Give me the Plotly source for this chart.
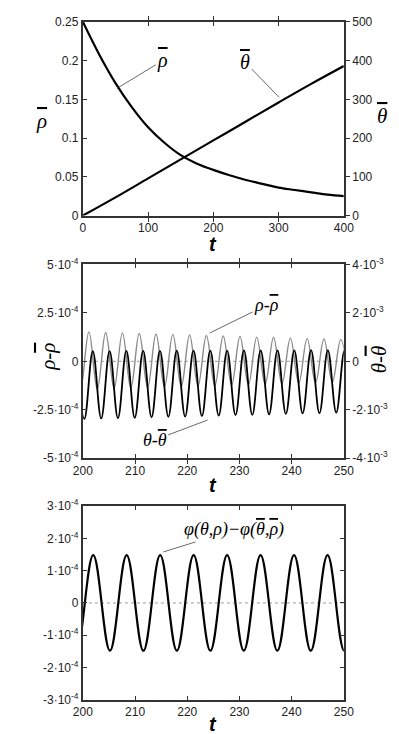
import plotly.graph_objects as go

# --- top panel: averaged quantities vs t ---
t_avg = [0, 25, 50, 75, 100, 125, 150, 175, 200, 225, 250, 275, 300, 325, 350, 375, 400]
rho_bar = [0.250, 0.208, 0.171, 0.140, 0.114, 0.094, 0.078, 0.067, 0.059, 0.052,
           0.046, 0.041, 0.036, 0.033, 0.030, 0.027, 0.025]
t_theta = [0, 50, 100, 150, 200, 250, 300, 350, 400]
theta_bar = [0, 47, 96, 145, 194, 243, 292, 340, 386]

# --- middle panel: deviations (extrema, t in [200, 250]) ---
rho_t = [197.93, 199.54, 201.15, 202.76, 204.37, 205.98, 207.58, 209.19, 210.80, 212.41,
         214.02, 215.63, 217.24, 218.85, 220.45, 222.06, 223.67, 225.28, 226.89, 228.50,
         230.11, 231.72, 233.32, 234.93, 236.54, 238.15, 239.76, 241.37, 242.97, 244.58,
         246.19, 247.80, 249.41, 251.02]
rho_dev = [1.54, -1.45, 1.52, -1.43, 1.49, -1.40, 1.47, -1.38, 1.44, -1.35,
           1.41, -1.33, 1.39, -1.30, 1.36, -1.28, 1.33, -1.26, 1.31, -1.23,
           1.28, -1.21, 1.25, -1.18, 1.23, -1.16, 1.20, -1.13, 1.17, -1.11,
           1.15, -1.08, 1.12, -1.06]  # x 1e-4

theta_t = [198.68, 200.29, 201.90, 203.51, 205.12, 206.72, 208.33, 209.94, 211.55, 213.16,
           214.77, 216.38, 217.99, 219.59, 221.20, 222.81, 224.42, 226.03, 227.64, 229.25,
           230.86, 232.46, 234.07, 235.68, 237.29, 238.90, 240.51, 242.11, 243.72, 245.33,
           246.94, 248.55, 250.16, 251.77]
theta_dev = [0.42, -2.38, 0.42, -2.36, 0.42, -2.35, 0.43, -2.33, 0.43, -2.31,
             0.43, -2.29, 0.44, -2.28, 0.44, -2.26, 0.44, -2.24, 0.44, -2.22,
             0.45, -2.21, 0.45, -2.19, 0.45, -2.17, 0.45, -2.15, 0.46, -2.14,
             0.46, -2.12, 0.46, -2.11]  # x 1e-3

# --- bottom panel: phi difference ---
phi_t = [195.56, 198.77, 201.98, 205.19, 208.39, 211.60, 214.81, 218.01, 221.22, 224.43,
         227.64, 230.84, 234.05, 237.26, 240.46, 243.67, 246.88, 250.09, 253.30]
phi_dev = [1.48, -1.48, 1.48, -1.48, 1.48, -1.48, 1.48, -1.48, 1.48, -1.48,
           1.48, -1.48, 1.48, -1.48, 1.48, -1.48, 1.48, -1.48, 1.48]  # x 1e-4

# tick labels
top_x_ticks = [0, 100, 200, 300, 400]
rho_ticks = [0, 0.05, 0.1, 0.15, 0.2, 0.25]
rho_ticktext = ["0", "0.05", "0.1", "0.15", "0.2", "0.25"]
theta_ticks = [0, 100, 200, 300, 400, 500]
t_ticks = [200, 210, 220, 230, 240, 250]
mid_left_ticks = [-5e-4, -2.5e-4, 0, 2.5e-4, 5e-4]
mid_left_text = ["-5·10<sup>-4</sup>", "-2.5·10<sup>-4</sup>", "0", "2.5·10<sup>-4</sup>", "5·10<sup>-4</sup>"]
mid_right_ticks = [-4e-3, -2e-3, 0, 2e-3, 4e-3]
mid_right_text = ["-4·10<sup>-3</sup>", "-2·10<sup>-3</sup>", "0", "2·10<sup>-3</sup>", "4·10<sup>-3</sup>"]
bot_ticks = [-3e-4, -2e-4, -1e-4, 0, 1e-4, 2e-4, 3e-4]
bot_text = ["-3·10<sup>-4</sup>", "-2·10<sup>-4</sup>", "-1·10<sup>-4</sup>", "0",
            "1·10<sup>-4</sup>", "2·10<sup>-4</sup>", "3·10<sup>-4</sup>"]

W, H = 399, 734
AX = "#333333"
SANS = "Liberation Sans, Arial, sans-serif"
SERIF = "Liberation Serif, Times New Roman, serif"


def py(p):  # pixel row -> paper y
    return 1 - p / H


def bar(s):  # overlined symbol
    return '<span style="text-decoration:overline">' + s + '</span>'


fig = go.Figure()

fig.add_trace(go.Scatter(x=t_avg, y=rho_bar, xaxis="x", yaxis="y", mode="lines",
                         line=dict(color="black", width=2.2, shape="spline")))
fig.add_trace(go.Scatter(x=t_theta, y=theta_bar, xaxis="x", yaxis="y2", mode="lines",
                         line=dict(color="black", width=2.2, shape="spline")))

fig.add_trace(go.Scatter(x=rho_t, y=[v * 1e-4 for v in rho_dev], xaxis="x2", yaxis="y3", mode="lines",
                         line=dict(color="#8a8a8a", width=1.4, shape="spline", smoothing=1.1)))
fig.add_trace(go.Scatter(x=theta_t, y=[v * 1e-3 for v in theta_dev], xaxis="x2", yaxis="y4", mode="lines",
                         line=dict(color="black", width=1.8, shape="spline", smoothing=1.1)))

fig.add_trace(go.Scatter(x=phi_t, y=[v * 1e-4 for v in phi_dev], xaxis="x3", yaxis="y5", mode="lines",
                         line=dict(color="black", width=2.2, shape="spline", smoothing=1.1)))

xdom = [68.3 / W, 343 / W]
common = dict(showline=True, linecolor=AX, linewidth=2, showgrid=False, zeroline=False,
              tickcolor=AX, ticklen=4, tickwidth=1.2, tickfont=dict(family=SANS, size=12, color="#222"))

fig.update_layout(
    width=W, height=H, margin=dict(l=0, r=0, t=0, b=0),
    paper_bgcolor="white", plot_bgcolor="white", showlegend=False, hovermode=False,
    xaxis=dict(domain=xdom, anchor="y", range=[0, 400], tickvals=top_x_ticks,
               ticks="inside", mirror="allticks", **common),
    yaxis=dict(domain=[py(203), py(5)], anchor="x", range=[0, 0.25], tickvals=rho_ticks,
               ticktext=rho_ticktext, ticks="inside", **common),
    yaxis2=dict(overlaying="y", side="right", anchor="x", range=[0, 500], tickvals=theta_ticks,
                ticks="outside", **common),
    xaxis2=dict(domain=xdom, anchor="y3", range=[200, 250], tickvals=t_ticks,
                ticks="inside", mirror="allticks", **common),
    yaxis3=dict(domain=[py(451), py(253)], anchor="x2", range=[-5e-4, 5e-4], tickvals=mid_left_ticks,
                ticktext=mid_left_text, ticks="inside", **common),
    yaxis4=dict(overlaying="y3", side="right", anchor="x2", range=[-4e-3, 4e-3], tickvals=mid_right_ticks,
                ticktext=mid_right_text, ticks="outside", **common),
    xaxis3=dict(domain=xdom, anchor="y5", range=[200, 250], tickvals=t_ticks,
                ticks="inside", mirror="allticks", **common),
    yaxis5=dict(domain=[py(698), py(500)], anchor="x3", range=[-3e-4, 3e-4], tickvals=bot_ticks,
                ticktext=bot_text, ticks="inside", mirror="allticks", **common),
)

# dotted zero lines
for xr, yr in [("x2", "y3"), ("x3", "y5")]:
    fig.add_shape(type="line", xref=xr + " domain", yref=yr, x0=0, x1=1, y0=0, y1=0,
                  line=dict(color="#9a9a9a", width=1, dash="dot"), layer="below")

# axis titles
tfont = dict(family=SANS, size=20, color="black")
gfont = dict(family=SERIF, size=21, color="black")
titles = [
    ("<b><i>t</i></b>", 205, 232, 0, tfont),
    ("<b><i>t</i></b>", 205, 478, 0, tfont),
    ("<b><i>t</i></b>", 205, 723, 0, tfont),
    ("<i>" + bar("ρ") + "</i>", 25, 106, 0, gfont),
    ("<i>" + bar("θ") + "</i>", 383, 101, 0, gfont),
    ("<i>ρ-" + bar("ρ") + "</i>", 32, 347, -90, gfont),
    ("<i>θ-" + bar("θ") + "</i>", 380, 350, -90, gfont),
]
for txt, x, y, ang, f in titles:
    fig.add_annotation(text=txt, x=x / W, y=py(y), xref="paper", yref="paper", showarrow=False,
                       textangle=ang, font=f, xanchor="center", yanchor="middle")

# curve labels with leader lines
lab = dict(family=SERIF, size=20, color="black")
lab2 = dict(family=SERIF, size=18, color="black")
arr = dict(showarrow=True, arrowhead=0, arrowwidth=0.8, arrowcolor="#444")
fig.add_annotation(text="<i>" + bar("ρ") + "</i>", x=52, y=0.164, xref="x", yref="y", ax=46, ay=-28,
                   font=lab, **arr)
fig.add_annotation(text="<i>" + bar("θ") + "</i>", x=301, y=305, xref="x", yref="y2", ax=-34, ay=-35,
                   font=lab, **arr)
fig.add_annotation(text="<i>ρ-" + bar("ρ") + "</i>", x=224.3, y=1.46e-4, xref="x2", yref="y3",
                   ax=57, ay=-28, font=lab2, **arr)
fig.add_annotation(text="<i>θ-" + bar("θ") + "</i>", x=223.9, y=-3.03e-4, xref="x2", yref="y3",
                   ax=-53, ay=20, font=lab2, **arr)
fig.add_annotation(text="<i>φ(θ,ρ)−φ(" + bar("θ") + "," + bar("ρ") + ")</i>", x=215.4, y=1.58e-4,
                   xref="x3", yref="y5", ax=71, ay=-22, font=lab2, **arr)

fig.write_html("out.html")
